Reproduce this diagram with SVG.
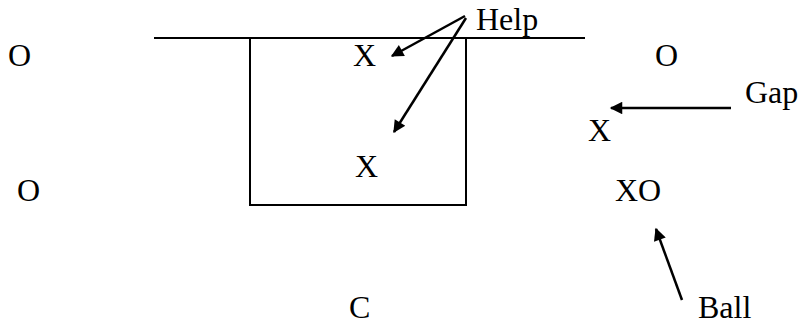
<svg xmlns="http://www.w3.org/2000/svg" width="799" height="332" viewBox="0 0 799 332">
<defs>
<style>
text{font-family:"Liberation Serif","Times New Roman",serif;font-size:32px;fill:#000}
.ln{stroke:#000;stroke-width:2;fill:none}
.ar{stroke:#000;stroke-width:2.5;fill:none;marker-end:url(#ah)}
</style>
<marker id="ah" viewBox="0 0 10 10" refX="9" refY="5" markerWidth="6" markerHeight="5" markerUnits="strokeWidth" orient="auto">
<path d="M0,0 L10,5 L0,10 z" fill="#000"/>
</marker>
</defs>
<rect width="799" height="332" fill="#fff"/>
<g id="court">
<line class="ln" x1="154" y1="38" x2="585" y2="38"/>
<polyline class="ln" points="250,38 250,205 466,205 466,38"/>
</g>
<g id="o-left-top"><text x="8" y="66">O</text></g>
<g id="x-top"><text x="353" y="66">X</text></g>
<g id="o-right-top"><text x="655" y="66">O</text></g>
<g id="help"><text x="476" y="30">Help</text></g>
<g id="gap"><text x="745" y="103">Gap</text></g>
<g id="x-gap"><text x="588" y="141">X</text></g>
<g id="x-mid"><text x="355" y="177">X</text></g>
<g id="o-left-low"><text x="17" y="201">O</text></g>
<g id="xo"><text x="615" y="201">XO</text></g>
<g id="c"><text x="349" y="318">C</text></g>
<g id="ball"><text x="698" y="318">Ball</text></g>
<g id="connectors">
<line class="ar" x1="465" y1="16" x2="392" y2="56"/>
<line class="ar" x1="466" y1="18" x2="394" y2="132"/>
<line class="ar" x1="731" y1="108" x2="611" y2="108"/>
<line class="ar" x1="682" y1="300" x2="656" y2="229"/>
</g>
</svg>
